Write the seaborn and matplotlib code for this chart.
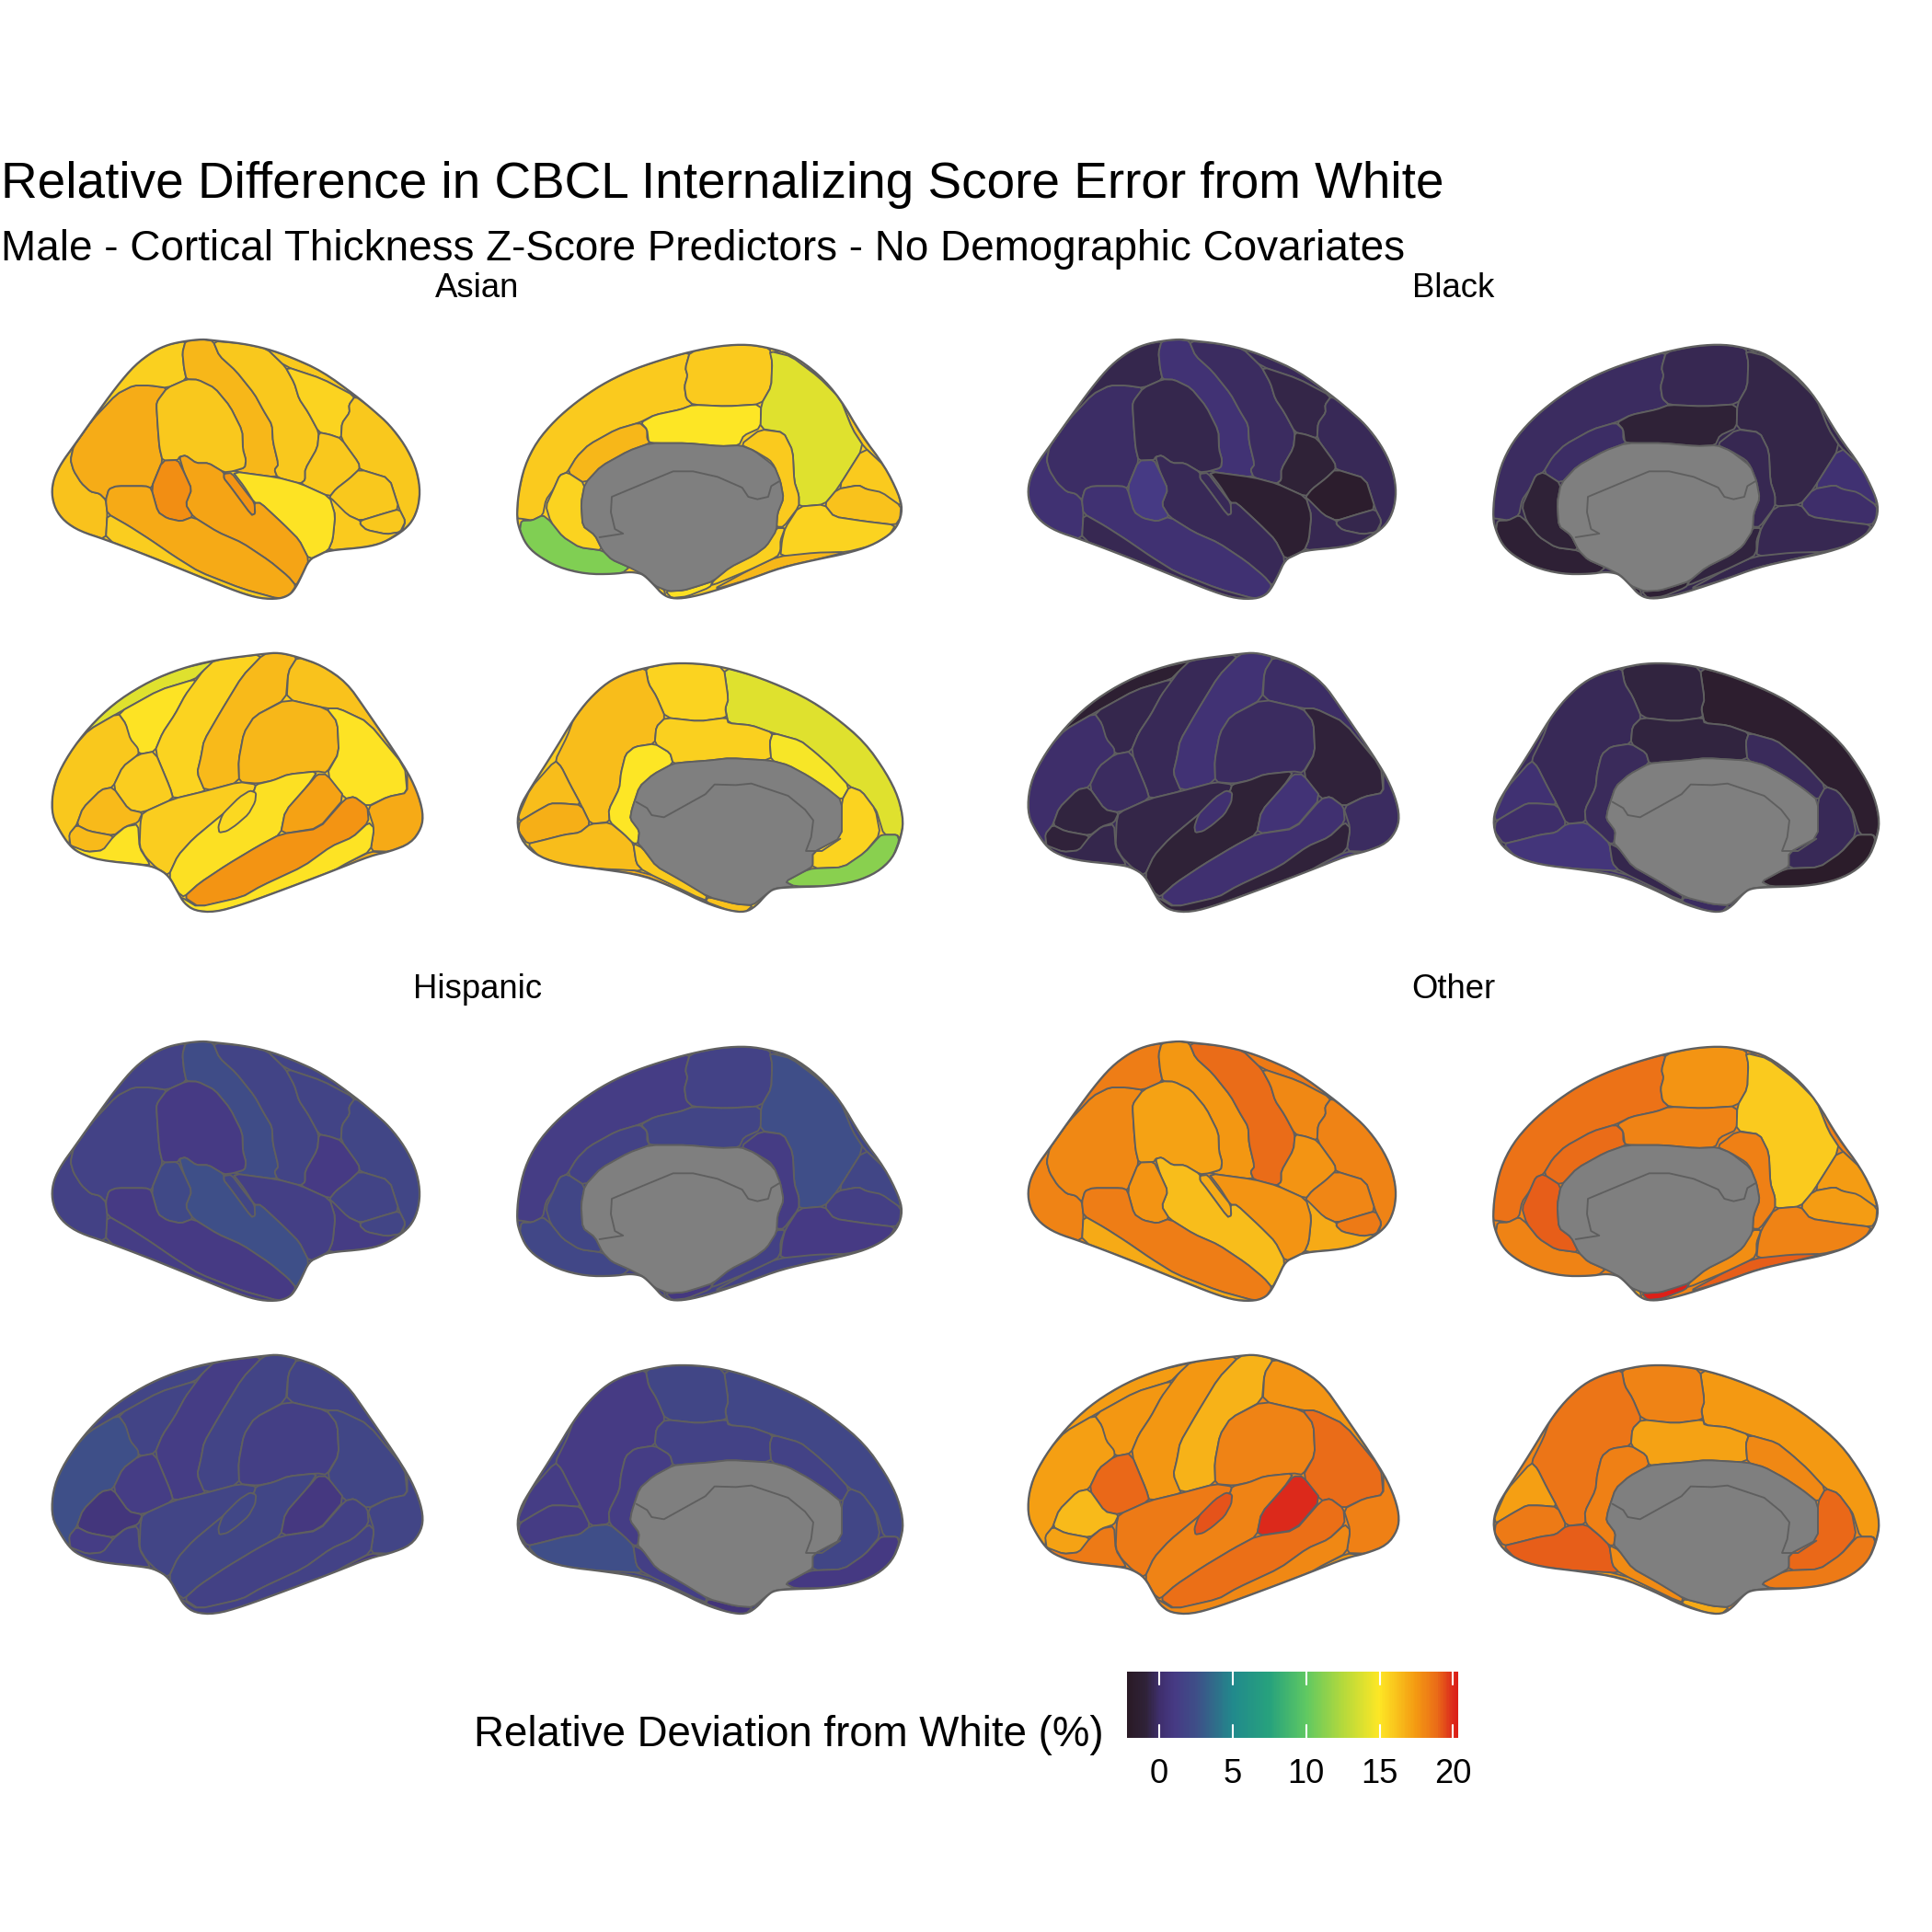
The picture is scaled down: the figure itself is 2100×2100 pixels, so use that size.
"""Relative CBCL error by cortical region, four groups, four hemisphere views."""

import numpy as np
import pandas as pd
import matplotlib
matplotlib.use("Agg")
import matplotlib.pyplot as plt
from matplotlib.colors import Normalize
import seaborn as sns

sns.set_theme(style="white")
plt.rcParams['font.family'] = ['Liberation Sans', 'DejaVu Sans']
plt.rcParams['text.color'] = 'black'

GROUPS = ["Asian", "Black", "Hispanic", "Other"]
CBAR_TICKS = [0, 5, 10, 15, 20]
CBAR_RANGE = (-2.2, 20.35)

# region order of each view matches the outlines further down
LAT_L_REGIONS = ["occipital", "infparietal", "supparietal", "postcentral", "supramarginal", "precentral",
                 "supfrontal", "caudmiddle", "rostmiddle", "opercularis", "triangularis", "orbitalis",
                 "latorb", "insula", "transverse", "suptemporal", "bankssts", "midtemporal", "inftemporal"]
ASIAN_LAT_L = [16.2, 16.9, 15.7, 16.5, 16.0, 16.0, 16.0, 15.6, 16.0, 16.0, 16.0, 16.0, 15.9, 15.1, 17.7, 17.1, 17.8, 17.0, 15.8]
BLACK_LAT_L = [0.2, -0.1, -0.6, 0.3, -0.6, -0.2, -0.4, -0.7, -0.4, -1.0, -1.7, -0.6, -0.5, -1.4, -0.4, -0.4, 1.0, 0.2, -0.5]
HISPANIC_LAT_L = [1.5, 1.6, 1.6, 2.3, 1.0, 1.7, 1.7, 1.7, 1.9, 1.0, 1.7, 1.8, 1.2, 1.4, 1.9, 2.5, 2.1, 1.0, 1.3]
OTHER_LAT_L = [18.2, 18.0, 18.4, 17.6, 17.2, 18.9, 18.5, 18.0, 18.2, 17.7, 18.1, 18.5, 17.0, 17.7, 17.0, 16.3, 17.7, 18.4, 17.0]

MED_L_REGIONS = ["sliver", "precuneus", "paracentral", "lingual", "isthmus", "postcing", "calcarine", "upper",
                 "rostcing", "wedge", "pole", "medorb", "strip", "parahipp", "entorhinal", "tip"]
ASIAN_MED_L = [16.0, 15.9, 15.9, 11.0, 16.5, 15.0, 15.6, 14.0, 15.9, 15.9, 16.2, 15.6, 16.5, 15.7, 15.2, 15.8]
BLACK_MED_L = [-0.6, -0.2, -0.5, -1.2, -0.1, -1.0, -1.0, -0.7, -0.5, 0.2, 0.0, -0.5, -0.6, -0.8, -1.2, -1.0]
HISPANIC_MED_L = [2.0, 1.3, 1.6, 2.0, 1.6, 1.8, 1.9, 2.4, 1.2, 1.9, 1.4, 1.0, 1.6, 1.5, 0.8, 1.5]
OTHER_MED_L = [18.3, 18.7, 17.7, 18.2, 18.9, 18.2, 19.2, 15.9, 18.3, 17.4, 17.4, 18.2, 19.2, 17.8, 20.3, 17.0]

LAT_R_REGIONS = ["sliver", "caudmiddle", "rostmiddle", "precentral", "postcentral", "supparietal", "supramarginal",
                 "infparietal", "occipital", "lingual", "opercularis", "triangularis", "orbitalis", "latorb",
                 "insula", "suptemporal", "transverse", "bankssts", "midtemporal", "inftemporal"]
ASIAN_LAT_R = [14.0, 15.1, 16.0, 15.6, 16.4, 16.2, 16.5, 15.1, 17.0, 16.8, 15.8, 16.4, 16.4, 15.1, 15.8, 15.2, 15.5, 17.2, 17.7, 15.1]
BLACK_LAT_R = [-1.4, -0.6, 0.0, -0.4, 0.3, -0.1, -0.2, -0.9, -0.2, 0.4, -0.2, -0.8, -0.9, -0.6, -0.7, -1.0, 0.1, 0.4, 0.1, -0.9]
HISPANIC_LAT_R = [1.8, 1.7, 2.5, 1.3, 1.7, 1.7, 1.4, 1.9, 1.8, 0.9, 1.3, 0.7, 1.3, 1.5, 1.8, 1.9, 2.0, 0.8, 1.5, 1.6]
OTHER_LAT_R = [17.4, 17.6, 17.3, 17.6, 16.7, 17.7, 18.2, 18.9, 18.3, 17.5, 19.0, 16.4, 17.2, 18.5, 18.5, 18.2, 19.3, 20.0, 18.8, 18.0]

MED_R_REGIONS = ["upper", "paracentral", "precuneus", "cuneus", "pericalc", "lingual", "isthmus", "postcing",
                 "rostcing", "ant", "medorb", "strip", "parahipp", "entorhinal"]
ASIAN_MED_R = [14.0, 15.6, 16.3, 16.3, 16.8, 16.3, 15.0, 15.7, 14.8, 15.6, 11.2, 16.8, 15.9, 16.2]
BLACK_MED_R = [-1.5, -0.8, -0.4, 0.2, 0.0, 0.6, -0.3, -0.8, -0.3, -0.4, -1.9, 0.0, -0.6, -0.2]
HISPANIC_MED_R = [2.0, 1.9, 1.1, 1.3, 1.2, 2.4, 1.3, 1.6, 1.6, 1.9, 0.9, 1.7, 1.4, 0.6]
OTHER_MED_R = [17.5, 18.2, 18.6, 17.3, 18.5, 19.2, 18.3, 17.2, 18.0, 19.0, 18.5, 17.5, 17.9, 17.0]

VIEW_VALUES = {
    "lat_l": [ASIAN_LAT_L, BLACK_LAT_L, HISPANIC_LAT_L, OTHER_LAT_L],
    "med_l": [ASIAN_MED_L, BLACK_MED_L, HISPANIC_MED_L, OTHER_MED_L],
    "lat_r": [ASIAN_LAT_R, BLACK_LAT_R, HISPANIC_LAT_R, OTHER_LAT_R],
    "med_r": [ASIAN_MED_R, BLACK_MED_R, HISPANIC_MED_R, OTHER_MED_R],
}
VIEW_REGIONS = {"lat_l": LAT_L_REGIONS, "med_l": MED_L_REGIONS, "lat_r": LAT_R_REGIONS, "med_r": MED_R_REGIONS}

# brain atlas outlines, traced at 3x in view-local pixels
OUTER = {
    "lat_l": [(515,92),(570,86),(605,90),(700,100),(780,117),(860,145),(960,190),(1070,270),(1130,320),(1180,365),(1230,430),(1265,500),(1280,570),(1275,630),(1255,680),(1220,715),(1160,750),(1100,765),(980,775),(950,790),(918,805),(895,855),(875,895),(855,920),(820,933),(760,932),(690,912),(560,860),(400,795),(255,740),(170,712),(120,680),(90,640),(78,590),(85,540),(110,490),(150,435),(210,350),(290,240),(350,170),(410,125),(460,103)],
    "med_l": [(65,640),(70,560),(90,470),(130,390),(190,320),(260,260),(340,205),(430,160),(530,125),(630,97),(730,77),(820,73),(890,85),(960,105),(1050,170),(1120,250),(1190,370),(1265,470),(1310,560),(1323,610),(1310,660),(1280,695),(1220,730),(1140,755),(1040,775),(930,800),(820,840),(700,880),(620,900),(570,902),(540,888),(515,860),(480,825),(460,818),(430,815),(380,822),(290,822),(200,800),(130,760),(95,725),(75,680)],
    "lat_r": [(880,72),(960,100),(1040,155),(1100,240),(1230,430),(1270,510),(1290,580),(1285,630),(1250,680),(1180,707),(1120,720),(1000,768),(850,825),(700,880),(610,905),(545,900),(510,875),(490,840),(460,785),(420,760),(380,750),(230,735),(165,710),(135,685),(105,640),(80,590),(80,520),(100,450),(150,365),(220,280),(300,210),(400,150),(500,110),(610,82),(770,62),(820,58)],
    "med_r": [(65,590),(75,530),(110,470),(190,345),(250,245),(300,180),(360,125),(420,95),(485,78),(560,63),(650,63),(740,75),(860,110),(1000,170),(1100,235),(1200,320),(1270,420),(1310,500),(1327,580),(1315,640),(1290,700),(1240,745),(1170,775),(1080,790),(960,793),(905,797),(880,815),(845,855),(810,875),(760,870),(680,845),(590,800),(480,755),(350,735),(220,720),(140,695),(85,650)],
}
SHAPES = {
    "lat_l": [
        [(150,435),(140,480),(150,515),(175,555),(205,583),(235,590),(255,610),(260,655),(255,740),(170,712),(120,680),(90,640),(78,590),(85,540),(110,490)],
        [(150,435),(210,350),(290,265),(345,237),(400,237),(455,245),(425,285),(420,300),(425,380),(430,440),(440,482),(420,530),(403,572),(385,565),(290,565),(265,575),(255,610),(235,590),(205,583),(175,555),(150,515),(140,480)],
        [(150,435),(210,350),(290,240),(350,170),(410,125),(460,103),(515,92),(505,130),(510,180),(518,217),(455,245),(400,237),(345,237),(290,265),(210,350)],
        [(515,92),(570,86),(605,92),(625,140),(680,190),(740,265),(770,320),(797,365),(800,420),(818,495),(805,512),(815,537),(668,517),(708,505),(712,480),(702,445),(700,385),(660,305),(610,245),(555,218),(518,217),(510,180),(505,130)],
        [(455,245),(518,217),(555,218),(610,245),(660,305),(700,385),(702,445),(712,480),(708,505),(668,517),(640,520),(590,490),(550,490),(515,465),(495,470),(490,480),(440,482),(430,440),(425,380),(420,300),(425,285)],
        [(605,92),(700,100),(780,117),(840,175),(870,230),(885,280),(915,325),(950,390),(945,440),(905,510),(905,545),(890,557),(815,537),(805,512),(818,495),(800,420),(797,365),(770,320),(740,265),(680,190),(625,140)],
        [(780,117),(860,145),(960,190),(1070,270),(1130,320),(1180,365),(1120,310),(1068,272),(960,215),(840,175)],
        [(840,175),(960,215),(1068,272),(1048,300),(1050,325),(1025,360),(1022,410),(985,397),(950,390),(915,325),(885,280),(870,230)],
        [(1068,272),(1120,310),(1180,365),(1230,430),(1265,500),(1280,570),(1275,630),(1255,680),(1220,715),(1232,680),(1212,640),(1180,540),(1082,510),(1080,490),(1022,410),(1025,360),(1050,325),(1048,300)],
        [(950,390),(985,397),(1022,410),(1080,490),(1082,510),(1050,540),(1005,575),(985,600),(890,557),(905,545),(905,510),(945,440)],
        [(1082,510),(1180,540),(1212,640),(1160,655),(1085,678),(1045,660),(990,620),(985,600),(1005,575),(1050,540)],
        [(1085,678),(1160,655),(1212,640),(1232,680),(1215,715),(1170,722),(1105,708),(1085,690)],
        [(985,600),(1045,660),(1085,678),(1085,690),(1105,708),(1170,722),(1215,715),(1160,750),(1100,765),(980,775),(995,740),(1003,660),(990,620)],
        [(668,517),(815,537),(890,557),(985,600),(1003,660),(995,740),(980,775),(918,805),(885,740),(835,690),(760,620),(740,620),(705,565)],
        [(640,525),(665,522),(705,575),(740,620),(742,655),(730,660),(660,565),(640,540)],
        [(495,470),(515,465),(550,490),(590,490),(640,520),(640,540),(660,565),(730,660),(742,655),(740,620),(760,620),(835,690),(885,740),(918,805),(895,855),(875,890),(850,860),(790,810),(700,750),(620,715),(540,665),(515,625),(535,575),(510,520)],
        [(440,482),(490,480),(510,520),(535,575),(515,625),(540,665),(500,680),(455,670),(425,650),(403,572)],
        [(255,610),(265,575),(290,565),(385,565),(403,572),(425,650),(455,670),(500,680),(540,665),(620,715),(700,750),(790,810),(850,860),(875,890),(855,920),(820,933),(700,900),(560,845),(480,795),(400,740),(330,695),(260,655)],
        [(260,655),(330,695),(400,740),(480,795),(560,845),(700,900),(820,933),(760,932),(690,912),(560,860),(400,795),(255,740)],
    ],
    "med_l": [
        [(890,85),(960,105),(1050,170),(1120,250),(1190,370),(1265,470),(1197,407),(1160,350),(1120,250),(1050,170)],
        [(65,640),(70,560),(90,470),(130,390),(190,320),(260,260),(340,205),(430,160),(530,125),(630,97),(615,150),(622,175),(612,210),(618,250),(640,270),(600,285),(515,303),(465,328),(390,350),(300,400),(260,440),(230,490),(205,500),(185,545),(160,580),(150,630),(115,647),(85,642)],
        [(630,97),(730,77),(820,73),(890,85),(898,130),(895,210),(862,268),(750,275),(640,270),(618,250),(612,210),(622,175),(615,150)],
        [(150,630),(175,650),(215,700),(270,735),(345,745),(375,775),(432,800),(410,818),(380,822),(290,822),(200,800),(130,760),(95,725),(75,680),(80,648),(115,647)],
        [(465,328),(490,350),(490,380),(500,395),(430,420),(340,470),(287,527),(230,490),(260,440),(300,400),(390,350)],
        [(515,303),(600,285),(640,270),(750,275),(862,268),(860,345),(805,370),(790,402),(730,405),(620,395),(520,395),(495,392),(490,350),(470,328)],
        [(205,500),(230,490),(287,527),(275,590),(280,665),(320,695),(345,745),(270,735),(215,700),(175,650),(160,600),(185,545)],
        [(890,95),(960,112),(1050,180),(1120,250),(1160,350),(1197,407),(1110,545),(1068,595),(985,602),(985,565),(970,520),(965,420),(935,360),(860,348),(862,268),(895,210),(898,130)],
        [(795,400),(860,350),(935,360),(965,420),(970,520),(985,565),(985,602),(935,668),(912,668),(915,625),(935,575),(925,520),(905,470),(890,450),(840,420)],
        [(1197,407),(1265,470),(1310,560),(1318,600),(1265,565),(1205,545),(1180,532),(1110,545)],
        [(1068,595),(1110,545),(1180,532),(1205,545),(1255,555),(1318,600),(1315,640),(1300,662),(1200,650),(1100,635)],
        [(985,602),(1068,595),(1100,635),(1200,650),(1300,662),(1280,695),(1220,730),(1140,750),(1040,755),(925,765),(930,712),(940,672)],
        [(915,765),(1040,752),(1140,750),(1040,775),(930,800),(820,840),(700,875),(820,810)],
        [(912,672),(940,672),(925,712),(925,745),(915,765),(820,810),(700,860),(705,845),(760,800),(840,760),(880,730)],
        [(550,878),(610,875),(660,860),(705,845),(695,865),(620,895),(570,900)],
        [(515,860),(545,872),(550,892),(535,882)],
    ],
    "lat_r": [
        [(150,365),(220,280),(300,210),(400,150),(500,110),(610,85),(570,120),(545,145),(430,180),(295,255),(200,310)],
        [(295,255),(430,180),(545,145),(545,160),(515,195),(480,260),(440,320),(415,380),(365,390),(330,340),(320,290)],
        [(150,365),(200,310),(295,255),(320,290),(335,340),(360,370),(362,390),(310,430),(278,497),(240,505),(180,565),(160,620),(140,645),(135,685),(105,640),(80,590),(80,520),(100,450)],
        [(610,82),(770,62),(700,135),(630,250),(575,345),(565,400),(553,450),(575,500),(578,510),(475,535),(465,500),(415,380),(440,320),(480,260),(515,195),(548,150),(570,120)],
        [(770,62),(820,58),(880,72),(850,120),(842,210),(740,265),(705,320),(688,410),(690,480),(578,510),(553,450),(565,400),(575,345),(630,250),(700,135)],
        [(880,72),(960,100),(1040,155),(1100,240),(1230,430),(1110,285),(1015,240),(975,240),(845,210),(850,120)],
        [(845,210),(975,240),(1010,285),(1015,385),(975,450),(945,445),(850,455),(800,475),(750,485),(690,480),(688,410),(705,320),(740,265)],
        [(975,240),(1015,240),(1110,285),(1230,430),(1238,515),(1175,528),(1108,560),(1065,528),(1035,535),(975,455),(1015,385),(1010,285)],
        [(1238,440),(1270,510),(1290,580),(1285,630),(1250,680),(1180,707),(1118,705),(1130,630),(1108,562),(1175,528),(1238,515)],
        [(1118,707),(1170,710),(1000,768),(1040,745)],
        [(310,430),(362,390),(415,380),(465,500),(475,535),(375,580),(330,570),(278,497)],
        [(240,505),(278,497),(330,570),(375,580),(360,612),(320,625),(280,655),(200,640),(160,620),(180,565)],
        [(160,620),(200,640),(280,655),(270,680),(245,703),(195,708),(140,690),(135,650)],
        [(135,685),(195,708),(245,703),(280,658),(320,625),(360,618),(365,695),(400,750),(380,750),(230,735),(165,710)],
        [(375,580),(475,535),(578,510),(690,480),(745,488),(738,510),(670,560),(630,590),(540,665),(490,720),(460,785),(420,760),(385,725),(365,690),(368,610)],
        [(745,488),(800,475),(850,455),(945,445),(915,490),(840,575),(825,650),(750,690),(650,750),(560,810),(510,855),(490,840),(460,785),(490,720),(540,665),(630,590),(670,560),(738,510)],
        [(640,580),(690,530),(725,508),(745,515),(742,545),(720,585),(680,620),(650,640),(625,645),(622,625),(632,595)],
        [(945,455),(975,455),(1035,530),(950,630),(825,650),(840,575),(915,490)],
        [(825,650),(950,632),(1035,535),(1065,528),(1108,560),(1112,610),(1060,660),(990,690),(900,755),(760,820),(700,855),(560,888),(510,855),(560,810),(650,750),(750,690)],
        [(1112,612),(1130,630),(1118,705),(1040,745),(1000,768),(850,825),(700,880),(610,905),(545,900),(510,875),(500,855),(555,888),(700,855),(760,820),(900,755),(990,690),(1060,660)],
    ],
    "med_r": [
        [(740,75),(860,110),(1000,170),(1100,235),(1200,320),(1270,420),(1310,500),(1327,580),(1315,635),(1305,622),(1262,622),(1240,550),(1235,540),(1190,480),(1150,465),(1090,400),(1040,355),(990,315),(900,290),(830,265),(755,258),(745,210),(755,180)],
        [(485,78),(560,63),(650,63),(740,75),(755,180),(745,210),(750,240),(660,252),(550,240),(520,170),(495,130)],
        [(485,78),(495,130),(520,170),(550,240),(520,270),(515,325),(450,335),(420,360),(405,420),(400,470),(365,540),(368,580),(305,587),(275,525),(240,460),(210,400),(190,380),(230,300),(250,245),(300,180),(360,125),(420,95)],
        [(190,380),(210,400),(240,460),(275,525),(215,520),(175,520),(130,545),(75,578),(70,560),(110,470)],
        [(75,578),(130,545),(175,520),(215,520),(275,525),(305,587),(270,615),(220,622),(150,640),(100,652),(70,610)],
        [(100,652),(150,640),(220,622),(270,615),(305,587),(368,582),(415,620),(445,650),(455,715),(478,740),(350,735),(220,720),(140,695)],
        [(450,335),(515,325),(565,355),(575,390),(510,425),(465,465),(440,540),(435,570),(465,610),(460,650),(445,650),(415,620),(368,580),(365,540),(400,470),(405,420),(420,360)],
        [(550,240),(660,252),(750,240),(755,258),(830,265),(900,290),(890,320),(895,380),(760,372),(690,380),(620,385),(575,390),(565,355),(515,325),(520,270)],
        [(900,290),(990,315),(1040,355),(1090,400),(1150,465),(1125,510),(1075,470),(1015,430),(950,395),(895,380),(890,320)],
        [(1150,465),(1190,480),(1235,540),(1250,620),(1200,680),(1130,728),(1030,732),(1030,680),(1120,630),(1125,510)],
        [(1262,622),(1305,622),(1312,640),(1290,700),(1240,745),(1170,775),(1080,790),(970,790),(940,775),(1005,740),(1030,732),(1130,728),(1200,680),(1250,625)],
        [(280,730),(478,740),(680,835),(685,845),(590,800),(480,755),(350,735)],
        [(445,650),(475,665),(520,725),(600,770),(685,820),(680,838),(478,740),(455,715)],
        [(690,825),(780,848),(835,852),(810,875),(760,870),(680,840)],
    ],
}
WALL = {
    "med_l": [(500,395),(620,395),(730,405),(795,402),(840,420),(905,470),(925,520),(935,575),(915,625),(912,680),(880,730),(840,760),(760,800),(705,845),(660,860),(610,875),(560,878),(515,860),(480,825),(432,800),(375,775),(345,745),(320,695),(280,665),(275,590),(287,527),(340,470),(430,420)],
    "med_r": [(575,390),(620,385),(690,380),(760,372),(895,380),(950,395),(1015,430),(1075,470),(1125,510),(1125,630),(1030,680),(1030,725),(1005,740),(940,775),(970,790),(905,797),(880,815),(835,852),(780,848),(690,825),(600,770),(520,725),(475,665),(460,650),(465,610),(435,570),(440,540),(465,465),(510,425)],
}
WALL_LINE = {
    "med_l": [(920,520),(895,535),(885,570),(850,578),(820,570),(800,540),(720,505),(640,487),(575,487),(490,522),(375,570),(372,620),(385,675),(412,690),(335,702)],
    "med_r": [(455,515),(490,535),(505,558),(545,565),(680,490),(710,458),(780,460),(830,455),(950,495),(1005,540),(1032,575),(1025,630),(1008,675),(1060,675),(1120,635)],
}
VIEW_ORIGIN = {"lat_l": (30, 340), "med_l": (540, 350), "lat_r": (30, 690), "med_r": (540, 700)}
PANEL_SHIFT = {"Asian": (0, 0), "Black": (1061, 0), "Hispanic": (0, 763), "Other": (1061, 763)}
LABEL_X = {"Asian": 519, "Black": 1580, "Hispanic": 519, "Other": 1580}
LABEL_Y = {"Asian": 323, "Black": 323, "Hispanic": 1085, "Other": 1085}

EDGE = "#5f5f5f"
LW = 0.45

# colour ramp
CMAP_STOPS = [(-2.2, "#2a1a26"), (-1.0, "#2f2238"), (0.0, "#3f2f6e"), (1.0, "#463a84"), (2.5, "#3e4f88"),
              (5.0, "#218a8c"), (7.5, "#27a27d"), (10.0, "#5fc862"), (12.5, "#b4d93c"), (15.0, "#fde725"),
              (17.5, "#f49a12"), (19.0, "#ea6a18"), (20.0, "#dc2c1c"), (20.35, "#dc2018")]


def make_cmap():
    lo, hi = CBAR_RANGE
    grid = np.linspace(lo, hi, 226)
    rgb = np.array([matplotlib.colors.to_rgb(c) for _, c in CMAP_STOPS])
    stops = [v for v, _ in CMAP_STOPS]
    colors = np.column_stack([np.interp(grid, stops, rgb[:, i]) for i in range(3)])
    return sns.blend_palette([tuple(c) for c in colors], n_colors=256, as_cmap=True)


def smooth(points, cut=0.25):
    # corner cutting on a closed outline
    pts = np.array(points, dtype=float)
    nxt = np.roll(pts, -1, axis=0)
    out = np.empty((len(pts) * 2, 2))
    out[0::2] = (1 - cut) * pts + cut * nxt
    out[1::2] = cut * pts + (1 - cut) * nxt
    return out


def to_px(points, view, group):
    ox, oy = VIEW_ORIGIN[view]
    sx, sy = PANEL_SHIFT[group]
    pts = np.array(points, dtype=float) / 3.0
    return pts[:, 0] + ox + sx, pts[:, 1] + oy + sy


def build_table():
    rows = []
    for view, regions in VIEW_REGIONS.items():
        for group, values in zip(GROUPS, VIEW_VALUES[view]):
            for order, (region, value) in enumerate(zip(regions, values)):
                rows.append({"group": group, "view": view, "order": order, "region": region, "value": value})
    return pd.DataFrame(rows)


def draw_view(ax, df, view, group, cmap, norm):
    sub = df[(df["view"] == view) & (df["group"] == group)].sort_values("order")
    outer = smooth(smooth(OUTER[view]))
    ox, oy = to_px(outer, view, group)
    base = ax.fill(ox, oy, facecolor=cmap(norm(sub["value"].median())), edgecolor="none", zorder=1)[0]
    for _, row in sub.iterrows():
        px, py = to_px(smooth(SHAPES[view][row["order"]], 0.15), view, group)
        patch = ax.fill(px, py, facecolor=cmap(norm(row["value"])), edgecolor=EDGE, linewidth=LW,
                        joinstyle="round", zorder=2)[0]
        patch.set_clip_path(base.get_path(), base.get_transform())
    if view in WALL:
        wx, wy = to_px(smooth(WALL[view], 0.15), view, group)
        patch = ax.fill(wx, wy, facecolor="#7f7f7f", edgecolor=EDGE, linewidth=LW, joinstyle="round", zorder=3)[0]
        patch.set_clip_path(base.get_path(), base.get_transform())
        lx, ly = to_px(WALL_LINE[view], view, group)
        ax.plot(lx, ly, color=EDGE, lw=LW, zorder=4, solid_joinstyle="round")
    ax.fill(ox, oy, facecolor="none", edgecolor=EDGE, linewidth=LW + 0.1, joinstyle="round", zorder=5)


def draw_colorbar(fig, ax, cmap, norm):
    x0, x1, y0, y1 = 1225, 1585, 1817, 1889
    cax = fig.add_axes([x0 / 2100, 1 - y1 / 2100, (x1 - x0) / 2100, (y1 - y0) / 2100])
    lo, hi = CBAR_RANGE
    ramp = pd.DataFrame([np.linspace(lo, hi, 400)])
    sns.heatmap(ramp, ax=cax, cmap=cmap, norm=norm, cbar=False, xticklabels=False, yticklabels=False, rasterized=True)
    cax.set_xlabel("")
    cax.set_ylabel("")
    for tick in CBAR_TICKS:
        px = (tick - lo) / (hi - lo) * 400
        cax.plot([px, px], [0, 0.2], color="white", lw=0.5)
        cax.plot([px, px], [0.8, 1], color="white", lw=0.5)
        ax.text(x0 + (x1 - x0) * (tick - lo) / (hi - lo), 1938, str(tick), ha="center", va="baseline", fontsize=8.7)
    ax.text(1200, 1898, "Relative Deviation from White (%)", ha="right", va="baseline", fontsize=10.95)


def main():
    df = build_table()
    cmap = make_cmap()
    norm = Normalize(*CBAR_RANGE)

    fig = plt.figure(figsize=(7, 7), dpi=300)
    ax = fig.add_axes([0, 0, 1, 1])
    ax.set_xlim(0, 2100)
    ax.set_ylim(2100, 0)
    ax.axis("off")

    for group in GROUPS:
        for view in VIEW_REGIONS:
            draw_view(ax, df, view, group, cmap, norm)
        ax.text(LABEL_X[group], LABEL_Y[group], group, ha="center", va="baseline", fontsize=8.75)

    ax.text(1, 215, "Relative Difference in CBCL Internalizing Score Error from White", va="baseline", fontsize=13.17)
    ax.text(1, 283, "Male - Cortical Thickness Z-Score Predictors - No Demographic Covariates", va="baseline", fontsize=11.0)
    draw_colorbar(fig, ax, cmap, norm)

    fig.savefig("out.png", dpi=300)
    plt.close(fig)


if __name__ == "__main__":
    main()
